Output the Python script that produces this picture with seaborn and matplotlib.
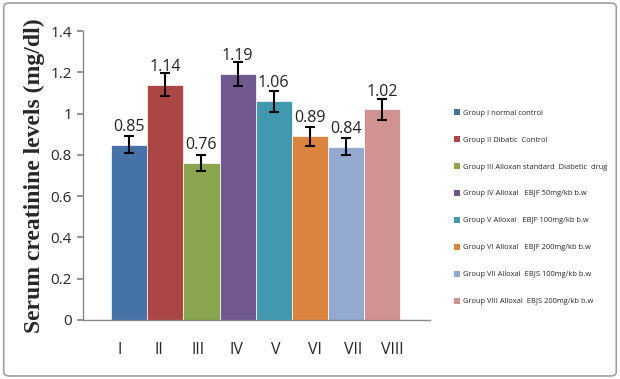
import numpy as np
import pandas as pd
import seaborn as sns
import matplotlib.pyplot as plt
from matplotlib.patches import Patch, FancyBboxPatch

# 数据
groups = ['I', 'II', 'III', 'IV', 'V', 'VI', 'VII', 'VIII']
values = [0.85, 1.14, 0.76, 1.19, 1.06, 0.89, 0.84, 1.02]
errors = [0.04, 0.057, 0.038, 0.058, 0.05, 0.045, 0.043, 0.05]
legend_labels = [
    'Group I normal control',
    'Group II Dibatic  Control',
    'Group III Alloxan standard  Diabetic  drug',
    'Group IV Alloxal   EBJF 50mg/kb b.w',
    'Group V Alloxal   EBJF 100mg/kb b.w',
    'Group VI Alloxal   EBJF 200mg/kb b.w',
    'Group VII Alloxal  EBJS 100mg/kb b.w',
    'Group VIII Alloxal  EBJS 200mg/kb b.w',
]
colors = ['#4572A7', '#AA4643', '#89A54E', '#71588F',
          '#4198AF', '#DB843D', '#93A9CF', '#D19392']

df = pd.DataFrame({'group': groups, 'value': values, 'err': errors})

sns.set_theme(style='white')
plt.rcParams['font.family'] = ['Open Sans', 'DejaVu Sans']

fig = plt.figure(figsize=(6.2, 3.79), dpi=100)
# 外框
fig.patches.append(FancyBboxPatch((0.006, 0.008), 0.988, 0.984, boxstyle='round,pad=0,rounding_size=0.01',
                                  transform=fig.transFigure, fill=False, edgecolor='#a0a0a0', linewidth=1.2))

ax = fig.add_axes([0.134, 0.156, 0.560, 0.762])
sns.barplot(data=df, x='group', y='value', hue='group', palette=colors,
            width=1.0, legend=False, errorbar=None, ax=ax, saturation=1,
            edgecolor='white', linewidth=0.5)
ax.errorbar(np.arange(len(groups)), df['value'], yerr=df['err'], fmt='none',
            ecolor='black', elinewidth=1.5, capsize=3.5, capthick=1.5)

# 数据标签（固定偏移在柱顶之上）
for i, v in enumerate(values):
    ax.text(i, v + 0.048, f'{v:.2f}', ha='center', va='bottom', fontsize=11.5, color='#222222')

ax.set_ylim(0, 1.4)
ax.set_yticks(np.arange(0, 1.41, 0.2))
ax.set_yticklabels(['0', '0.2', '0.4', '0.6', '0.8', '1', '1.2', '1.4'], fontsize=11)
ax.set_xlim(-1.275, 8.33)
ax.set_xticks(np.linspace(-0.25, 7.28, len(groups)))
ax.set_xticklabels(groups, fontsize=11.5)
ax.tick_params(axis='y', left=True, length=4, color='#888888', pad=4)
ax.tick_params(axis='x', bottom=False, pad=10)
ax.set_xlabel('')
ax.set_ylabel('Serum creatinine levels (mg/dl)', fontsize=17, fontweight='bold',
              family='Liberation Serif', labelpad=4)
for s in ['top', 'right']:
    ax.spines[s].set_visible(False)
for s in ['left', 'bottom']:
    ax.spines[s].set_color('#888888')
    ax.spines[s].set_linewidth(1)

handles = [Patch(facecolor=c, edgecolor='none') for c in colors]
fig.legend(handles, legend_labels, loc='upper left', bbox_to_anchor=(0.722, 0.73),
           frameon=False, fontsize=5.4, handlelength=0.8, handleheight=0.8,
           handletextpad=0.3, labelspacing=2.6)

plt.savefig('out.png', dpi=100)
